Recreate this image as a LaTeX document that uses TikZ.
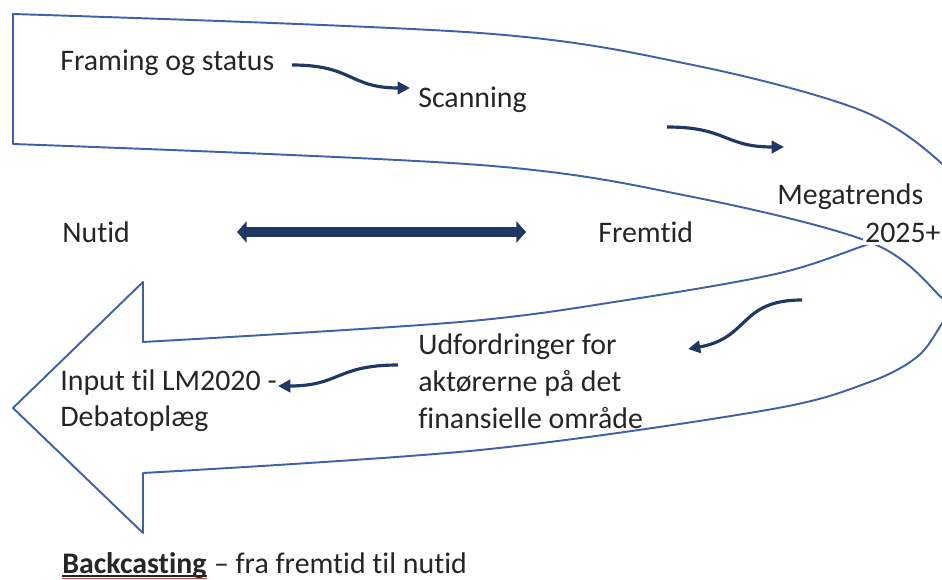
\documentclass[tikz,border=0pt]{standalone}
\usepackage{fontspec}
\setmainfont{Carlito}[Ligatures=NoCommon]
\usetikzlibrary{arrows.meta,positioning}
\definecolor{bandBlue}{RGB}{60,98,170}
\definecolor{navy}{RGB}{31,56,100}
\definecolor{inkGray}{RGB}{38,38,38}
\definecolor{spellRed}{RGB}{200,70,70}

\begin{document}
\begin{tikzpicture}[
    x=0.02cm, y=-0.02cm,
    txt/.style    ={inner sep=0pt, anchor=base west, text=inkGray,
                    font=\fontsize{17}{20.5}\selectfont,
                    text height=14pt, text depth=6.5pt},
    ribbon/.style ={draw=bandBlue, line width=1.1pt, line join=round},
    squig/.style  ={-{Triangle[length=7pt,width=7pt]}, draw=navy, line width=1.8pt},
    timebar/.style={arrows={Triangle[length=5.5pt,width=12pt]-Triangle[length=5.5pt,width=12pt]},
                    draw=navy, line width=5.5pt}
]
\useasboundingbox (0,0) rectangle (942,580);
\clip (0,0) rectangle (942,580);

% u-turn band
\draw[ribbon] (143,282) -- (13,408) -- (143,533) -- (143,473)
  -- plot[smooth, tension=0.55] coordinates {(143,473) (480,450) (767,410) (867,383) (917,357) (941,325) (949,310) (942,298) (872,243) (693,197) (480,165) (13,144)}
  -- (13,14)
  -- plot[smooth, tension=0.55] coordinates {(13,14) (480,33) (693,65) (860,110) (940,162) (955,195) (942,222) (872,243) (780,273) (627,300) (460,322) (143,342)}
  -- cycle;

\node[txt] (framing) at (60,71) {Framing og status};
\node[txt] (scan) at (418,108) {Scanning};
\node[txt] (mega) at (777,205) {Megatrends};
\node[txt, fill=white, inner sep=1pt, text depth=0pt] (year) at (863,243) {2025+};
\node[txt] (nutid) at (62,243) {Nutid};
\node[txt] (fremtid) at (598,243) {Fremtid};

\node[txt] (udf1) at (418,355) {Udfordringer for};
\node[txt, below=0pt of udf1.south west, anchor=north west] (udf2) {aktørerne på det};
\node[txt, below=0pt of udf2.south west, anchor=north west] (udf3) {finansielle område};

\node[txt] (input1) at (60,390) {Input til LM2020 -};
\node[txt, below=0pt of input1.south west, anchor=north west] (input2) {Debatoplæg};

\node[txt] (bcword) at (62,573) {\textbf{Backcasting}};
\node[txt, right=0pt of bcword.base east, anchor=base west] (bcrest) {\ – fra fremtid til nutid};
\draw[spellRed, line width=0.7pt] ([yshift=-3pt]bcword.base west) -- ([yshift=-3pt]bcword.base east);
\draw[inkGray, line width=0.8pt] ([yshift=-1.6pt]bcword.base west) -- ([yshift=-1.6pt]bcword.base east);

% loose ends of the wavy arrows
\coordinate (sq1s) at (292,65);  \coordinate (sq1e) at (410,88);
\coordinate (sq2s) at (667,127); \coordinate (sq2e) at (784,147);
\coordinate (sq3s) at (802,300); \coordinate (sq3e) at (688,349);
\coordinate (sq4s) at (398,365); \coordinate (sq4e) at (278,386);
\coordinate (barL) at (237,232); \coordinate (barR) at (526,232);

\draw[squig] (sq1s) to[out=0,in=180,looseness=1.3] (sq1e);
\draw[squig] (sq2s) to[out=0,in=180,looseness=1.3] (sq2e);
\draw[squig] (sq3s) to[out=180,in=10,looseness=1.3] (sq3e);
\draw[squig] (sq4s) to[out=180,in=0,looseness=1.3] (sq4e);
\draw[timebar] (barL) -- (barR);
\end{tikzpicture}
\end{document}
